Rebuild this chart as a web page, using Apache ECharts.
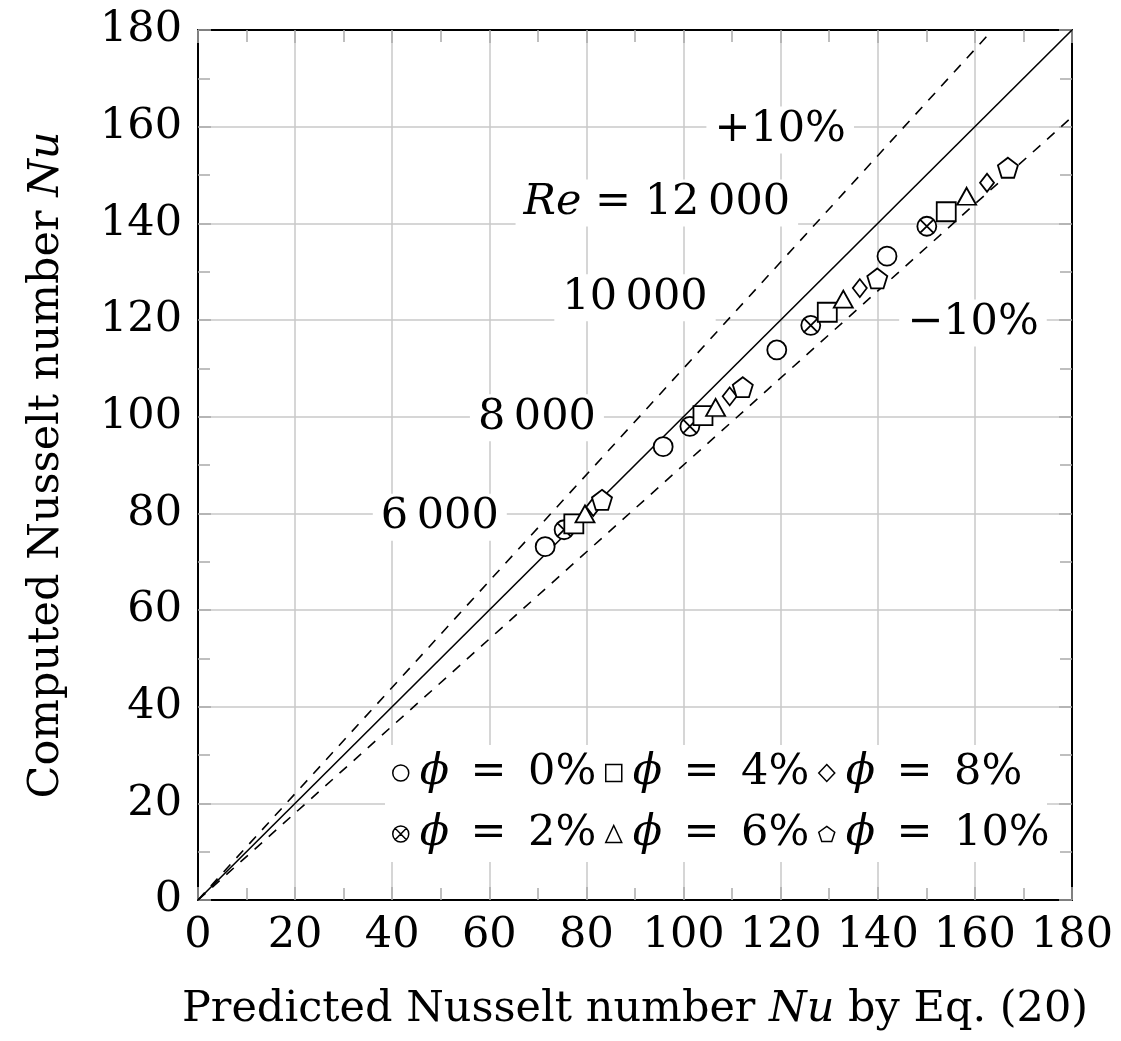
<!DOCTYPE html>
<html>
<head>
<meta charset="utf-8">
<script src="https://cdn.jsdelivr.net/npm/echarts@6/dist/echarts.min.js"></script>
<style>html,body{margin:0;padding:0;background:#fff}#c{width:1121px;height:1041px}</style>
</head>
<body>
<div id="c"></div>
<script>
// ---- data ----
const phi0X  = [71.5, 95.8, 119.2, 141.9];
const phi0Y  = [73.1, 93.8, 113.8, 133.2];
const phi2X  = [75.4, 101.3, 126.2, 150.1];
const phi2Y  = [76.6, 98.0, 118.9, 139.4];
const phi4X  = [77.4, 104.0, 129.6, 154.1];
const phi4Y  = [77.8, 100.2, 121.6, 142.4];
const phi6X  = [79.7, 106.6, 132.9, 158.3];
const phi6Y  = [79.9, 101.9, 124.3, 145.6];
const phi8X  = [81.4, 109.5, 136.3, 162.5];
const phi8Y  = [81.3, 104.2, 126.6, 148.4];
const phi10X = [83.2, 112.2, 139.9, 166.8];
const phi10Y = [82.8, 106.1, 128.6, 151.5];

const seriesNames = ['0%', '2%', '4%', '6%', '8%', '10%'];

const perfectLine = [[0, 0], [180, 180]];
const plus10Line  = [[0, 0], [163.64, 180]];
const minus10Line = [[0, 0], [180, 162]];

const annotations = [
  { text: '+10%', at: [119.9, 159.3] },
  { text: '{i|Re} = 12\u2009000', at: [94.5, 144.2] },
  { text: '10\u2009000', at: [90.0, 124.6] },
  { text: '8\u2009000', at: [69.8, 99.8] },
  { text: '6\u2009000', at: [49.8, 79.2] },
  { text: '\u221210%', at: [159.6, 119.4] }
];

const axisMin = 0, axisMax = 180, axisStep = 20;

// ---- chart ----
const FONT = 'DejaVu Serif';
const FS = 43;
const zip = (xs, ys) => xs.map((x, i) => [x, ys[i]]);

const crossCircle = 'path://M0,10A10,10 0 1,1 20,10A10,10 0 1,1 0,10Z M2.93,2.93L17.07,17.07 M17.07,2.93L2.93,17.07';
const pentagon = 'path://M10,0L19.51,6.91L15.88,18.09L4.12,18.09L0.49,6.91Z';

function mk(name, xs, ys, symbol, size) {
  return {
    name: name, type: 'scatter', data: zip(xs, ys),
    symbol: symbol, symbolSize: size, z: 5,
    itemStyle: { color: '#fff', borderColor: '#000', borderWidth: 1.8, opacity: 1 },
    emphasis: { disabled: true }
  };
}
function refLine(data, dashed) {
  return {
    type: 'line', data: data, symbol: 'none', silent: true, z: 3,
    lineStyle: { color: '#000', width: 1.6, type: dashed ? [10, 9] : 'solid' }
  };
}

const axisCommon = {
  type: 'value', min: axisMin, max: axisMax, interval: axisStep,
  axisLine: { show: true, onZero: false, lineStyle: { color: '#000', width: 2 } },
  axisTick: { show: true, inside: true, length: 13, lineStyle: { color: '#aaa', width: 1.5 } },
  minorTick: { show: true, splitNumber: 2, length: 12, lineStyle: { color: '#aaa', width: 1.5 } },
  splitLine: { show: false },
};

const chart = echarts.init(document.getElementById('c'));
const legendText = {
  fontFamily: FONT, fontSize: FS, color: '#000', lineHeight: 44,
  rich: {
    i: { fontFamily: FONT, fontSize: FS, fontStyle: 'italic', color: '#000', lineHeight: 44 },
    s: { width: 6 }
  }
};
const legendFmt = n => '{s|}{i|ϕ}\u2002=\u2002' + n;
function legend(left, data) {
  return {
    left: left, top: 751, orient: 'vertical', data: data, itemGap: 17,
    itemWidth: 16, itemHeight: 17, itemStyle: { borderWidth: 1.5, borderColor: '#000', color: '#fff' },
    formatter: legendFmt, textStyle: legendText, padding: 0, selectedMode: false
  };
}

chart.setOption({
  animation: false,
  backgroundColor: '#fff',
  grid: { left: 198, right: 49, top: 30, bottom: 141 },
  xAxis: [
    Object.assign({}, axisCommon, {
      position: 'bottom',
      name: 'Predicted Nusselt number {i|Nu} by Eq. (20)', nameLocation: 'middle', nameGap: 88,
      nameTextStyle: { fontFamily: FONT, fontSize: FS, color: '#000',
        rich: { i: { fontFamily: FONT, fontSize: FS, fontStyle: 'italic', color: '#000' } } },
      axisLabel: { fontFamily: FONT, fontSize: FS, color: '#000', margin: 14 },
      splitLine: { show: true, lineStyle: { color: '#c8c8c8', width: 1.5 } }
    }),
    Object.assign({}, axisCommon, { position: 'top', axisLabel: { show: false } })
  ],
  yAxis: [
    Object.assign({}, axisCommon, {
      position: 'left',
      name: 'Computed Nusselt number {i|Nu}', nameLocation: 'middle', nameGap: 130,
      nameTextStyle: { fontFamily: FONT, fontSize: FS, color: '#000',
        rich: { i: { fontFamily: FONT, fontSize: FS, fontStyle: 'italic', color: '#000' } } },
      axisLabel: { fontFamily: FONT, fontSize: FS, color: '#000', margin: 16 },
      splitLine: { show: true, lineStyle: { color: '#c8c8c8', width: 1.5 } }
    }),
    Object.assign({}, axisCommon, { position: 'right', axisLabel: { show: false } })
  ],
  legend: [
    legend(392, ['0%', '2%']),
    legend(605, ['4%', '6%']),
    legend(818, ['8%', '10%'])
  ],
  series: [
    refLine(perfectLine, false),
    refLine(plus10Line, true),
    refLine(minus10Line, true),
    mk(seriesNames[0], phi0X, phi0Y, 'circle', 19),
    mk(seriesNames[1], phi2X, phi2Y, crossCircle, 19),
    mk(seriesNames[2], phi4X, phi4Y, 'rect', 19),
    mk(seriesNames[3], phi6X, phi6Y, 'triangle', [19, 17]),
    mk(seriesNames[4], phi8X, phi8Y, 'diamond', [14, 18]),
    mk(seriesNames[5], phi10X, phi10Y, pentagon, 20)
  ]
});

// white panel behind legend, and annotation texts placed in data coordinates
const graphics = [{
  type: 'rect', z: 1, silent: true,
  shape: { x: 385, y: 745, width: 662, height: 117 },
  style: { fill: '#fff' }
}];
annotations.forEach(a => {
  const p = chart.convertToPixel({ xAxisIndex: 0, yAxisIndex: 0 }, a.at);
  graphics.push({
    type: 'text', z: 4, silent: true, x: p[0], y: p[1],
    style: {
      text: a.text, fontFamily: FONT, fontSize: FS, fill: '#000',
      align: 'center', verticalAlign: 'middle', backgroundColor: '#fff', padding: [2, 8],
      rich: { i: { fontFamily: FONT, fontSize: FS, fontStyle: 'italic', fill: '#000' } }
    }
  });
});
chart.setOption({ graphic: graphics });
</script>
</body>
</html>
